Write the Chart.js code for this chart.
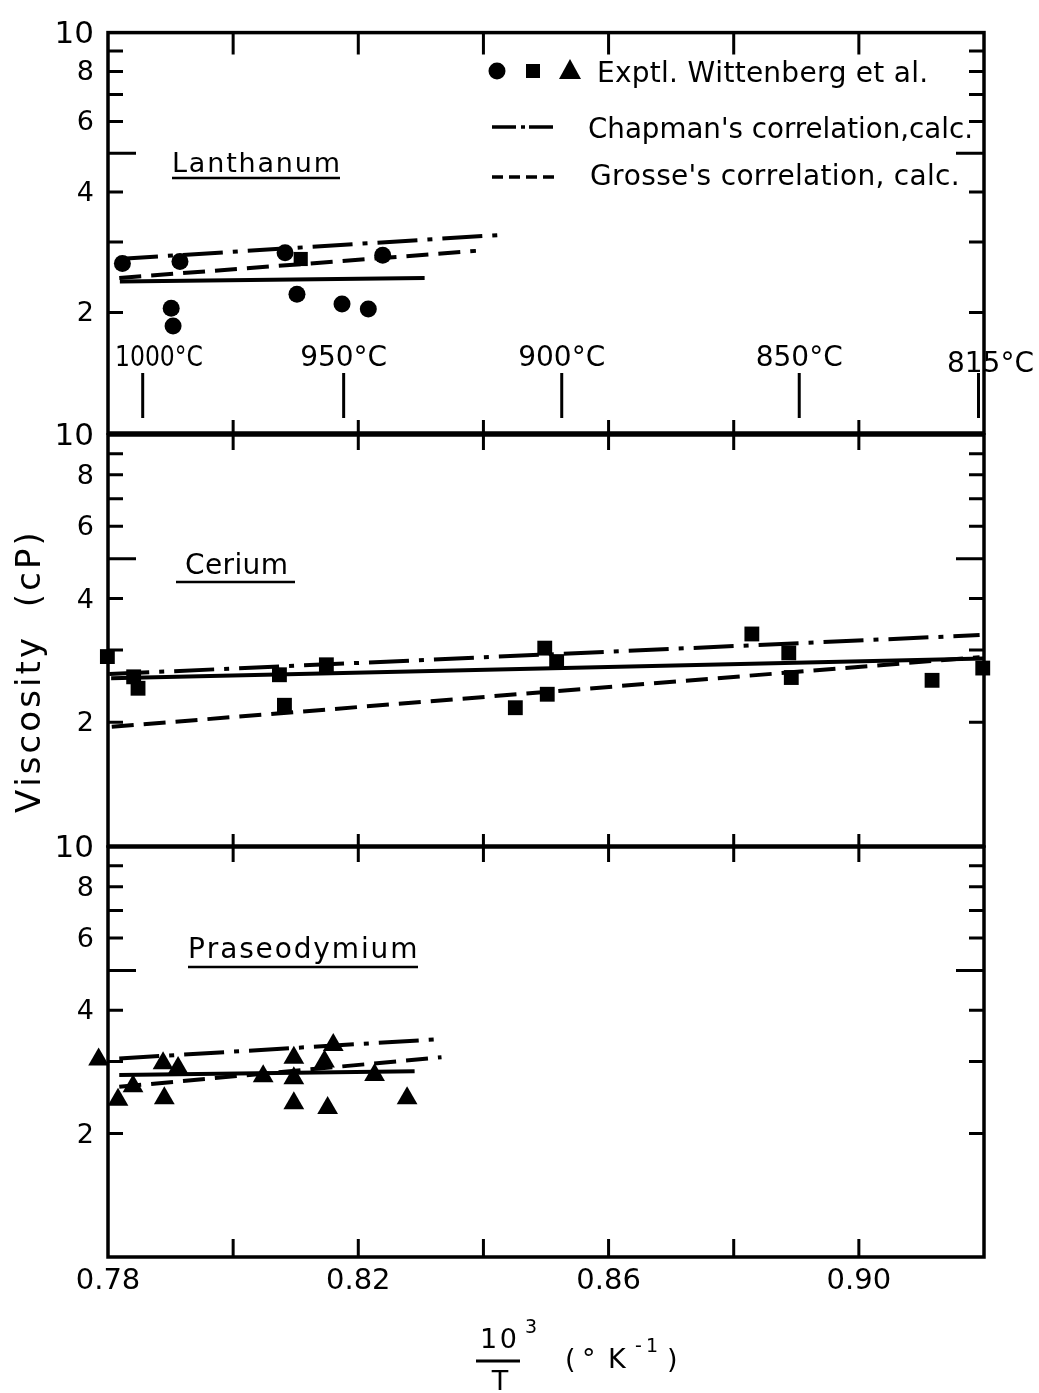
<!DOCTYPE html>
<html><head><meta charset="utf-8">
<script src="https://cdn.jsdelivr.net/npm/chart.js@4.4.1/dist/chart.umd.min.js"></script>
<style>
html,body{margin:0;padding:0;background:#fff;}
#wrap{position:relative;width:1039px;height:1393px;overflow:hidden;background:#fff;}
#wrap canvas{position:absolute;left:0;top:0;}
</style></head><body>
<div id="wrap">
<canvas id="c1" width="1039" height="1393"></canvas>
<canvas id="c2" width="1039" height="1393"></canvas>
<canvas id="c3" width="1039" height="1393"></canvas>
</div>
<script>
// ---------- tick labels ----------
const xTickLabels = [0.78, 0.82, 0.86, 0.90];
const xMinorTicks = [0.80, 0.82, 0.84, 0.86, 0.88, 0.90];
const yTickLabels = [2, 4, 6, 8, 10];
const yMinorTicks = [2, 3, 4, 5, 6, 7, 8, 9];
const tempLabels = [1000, 950, 900, 850, 815];   // °C, top temperature scale

// ---------- Lanthanum ----------
const laX = [0.7823, 0.7915, 0.7901, 0.7904, 0.8083, 0.8102, 0.8174, 0.8216, 0.8239];
const laY = [2.65, 2.68, 2.05, 1.85, 2.82, 2.22, 2.10, 2.04, 2.78];
const laSqX = [0.8108];
const laSqY = [2.72];
const laChapX = [0.7816, 0.8436];
const laChapY = [2.72, 3.13];
const laGrosX = [0.7818, 0.8388];
const laGrosY = [2.44, 2.85];
const laSolidX = [0.7819, 0.8306];
const laSolidY = [2.39, 2.44];

// ---------- Cerium ----------
const ceX = [0.7799, 0.7841, 0.7848, 0.8074, 0.8149, 0.8082, 0.8498, 0.8517, 0.8451, 0.8502, 0.8829, 0.8888, 0.8892, 0.9117, 0.9198];
const ceY = [2.89, 2.58, 2.42, 2.61, 2.76, 2.20, 3.03, 2.81, 2.17, 2.34, 3.28, 2.95, 2.57, 2.53, 2.71];
const ceChapX = [0.7802, 0.9193];
const ceChapY = [2.62, 3.26];
const ceGrosX = [0.7806, 0.9193];
const ceGrosY = [1.95, 2.88];
const ceSolidX = [0.7805, 0.9199];
const ceSolidY = [2.56, 2.86];

// ---------- Praseodymium ----------
const prX = [0.7785, 0.7816, 0.7840, 0.7888, 0.7912, 0.7890, 0.8048, 0.8097, 0.8097, 0.8097, 0.8146, 0.8160, 0.8151, 0.8226, 0.8278];
const prY = [3.03, 2.42, 2.61, 2.97, 2.89, 2.44, 2.76, 3.06, 2.73, 2.37, 3.00, 3.29, 2.31, 2.78, 2.44];
const prChapX = [0.7818, 0.8333];
const prChapY = [3.05, 3.40];
const prGrosX = [0.7818, 0.8333];
const prGrosY = [2.60, 3.07];
const prSolidX = [0.7818, 0.8290];
const prSolidY = [2.78, 2.84];

// ---------- helpers ----------
const FONT = "'DejaVu Sans', 'Liberation Sans', sans-serif";
const pts = (xs, ys) => xs.map((x, i) => ({x: x, y: ys[i]}));
const CHAP = [40, 10, 5, 10], GROS = [22, 10];

function ptDs(xs, ys, style, r) {
  return {data: pts(xs, ys), pointStyle: style, pointRadius: r, pointHoverRadius: r,
    backgroundColor: '#000', borderColor: '#000', borderWidth: 0, showLine: false, clip: false};
}
function lineDs(xs, ys, dash) {
  return {data: pts(xs, ys), showLine: true, borderColor: '#000', borderWidth: 4, borderDash: dash,
    borderCapStyle: 'butt', pointRadius: 0, pointHoverRadius: 0, fill: false, clip: false};
}

function txt(ctx, s, x, y, size, opt) {
  opt = opt || {};
  ctx.save();
  ctx.font = (opt.weight || 'normal') + ' ' + size + 'px ' + FONT;
  ctx.fillStyle = '#000';
  ctx.textBaseline = opt.baseline || 'alphabetic';
  ctx.textAlign = 'left';
  const w = ctx.measureText(s).width;
  let sx = 1, ls = 0;
  if (opt.width) {
    if (w > opt.width) sx = opt.width / w;
    else if (s.length > 1) ls = (opt.width - w) / (s.length - 1);
  }
  const total = opt.width || w;
  let x0 = x;
  if (opt.align === 'center') x0 = x - total / 2;
  else if (opt.align === 'right') x0 = x - total;
  if (opt.rotate) { ctx.translate(x, y); ctx.rotate(opt.rotate); x0 = 0; y = 0; }
  if (ls > 0) {
    let cx = x0;
    for (const ch of s) { ctx.fillText(ch, cx, y); cx += ctx.measureText(ch).width + ls; }
  } else {
    ctx.translate(x0, y); ctx.scale(sx, 1); ctx.fillText(s, 0, 0);
  }
  ctx.restore();
}
function underline(ctx, x0, x1, y) {
  ctx.save(); ctx.strokeStyle = '#000'; ctx.lineWidth = 2.5;
  ctx.beginPath(); ctx.moveTo(x0, y); ctx.lineTo(x1, y); ctx.stroke(); ctx.restore();
}

const framePlugin = {
  id: 'frame',
  afterDatasetsDraw(chart, args, o) {
    const ctx = chart.ctx, a = chart.chartArea, x = chart.scales.x, y = chart.scales.y;
    ctx.save();
    ctx.strokeStyle = '#000'; ctx.lineCap = 'butt';
    ctx.lineWidth = 3.5;
    ctx.strokeRect(a.left, a.top, a.right - a.left, a.bottom - a.top);
    ctx.lineWidth = 3;
    ctx.beginPath();
    yMinorTicks.forEach(v => {
      const py = y.getPixelForValue(v), len = v === 5 ? 28 : 15;
      ctx.moveTo(a.left, py); ctx.lineTo(a.left + len, py);
      ctx.moveTo(a.right, py); ctx.lineTo(a.right - len, py);
    });
    xMinorTicks.forEach(v => {
      const px = x.getPixelForValue(v);
      ctx.moveTo(px, a.top); ctx.lineTo(px, a.top + (o.topLen || 18));
      ctx.moveTo(px, a.bottom); ctx.lineTo(px, a.bottom - (o.botLen || 14));
    });
    ctx.stroke();
    ctx.restore();
  }
};

function makeChart(id, padTop, padBottom, datasets, showX, frameOpts, extra) {
  return new Chart(document.getElementById(id), {
    type: 'scatter',
    data: {datasets: datasets},
    options: {
      responsive: false, animation: false, devicePixelRatio: 1,
      layout: {padding: {top: padTop, bottom: padBottom, left: 0, right: 55}},
      plugins: {legend: {display: false}, tooltip: {enabled: false}, frame: frameOpts},
      scales: {
        x: {type: 'linear', min: 0.78, max: 0.92, display: showX,
          grid: {display: false, drawTicks: false}, border: {display: false},
          afterBuildTicks: s => { s.ticks = xTickLabels.map(v => ({value: v})); },
          afterFit: s => { if (showX) s.height = 136; },
          ticks: {callback: v => Number(v).toFixed(2), font: {family: FONT, size: 29}, color: '#000',
            padding: 7, maxRotation: 0, autoSkip: false}},
        y: {type: 'logarithmic', min: 1, max: 10,
          grid: {display: false, drawTicks: false}, border: {display: false},
          afterBuildTicks: s => { s.ticks = yTickLabels.map(v => ({value: v})); },
          afterFit: s => { s.width = 108; },
          ticks: {callback: v => String(v),
            font: c => ({family: FONT, size: (c.tick && c.tick.value === 10) ? 31 : 27}),
            color: '#000', padding: 14, labelOffset: 2, autoSkip: false}}
      }
    },
    plugins: [framePlugin, extra]
  });
}

// ---------- panel decorations ----------
const topDeco = {
  id: 'topDeco',
  afterDraw(chart) {
    const ctx = chart.ctx, a = chart.chartArea, x = chart.scales.x;
    // legend
    ctx.save(); ctx.fillStyle = '#000';
    ctx.beginPath(); ctx.arc(497, 71, 8.5, 0, Math.PI * 2); ctx.fill();
    ctx.fillRect(526, 64, 14, 14);
    ctx.beginPath(); ctx.moveTo(570, 59); ctx.lineTo(581, 79); ctx.lineTo(559, 79); ctx.closePath(); ctx.fill();
    ctx.strokeStyle = '#000'; ctx.lineWidth = 3.5;
    ctx.beginPath();
    ctx.moveTo(492, 127); ctx.lineTo(516, 127);
    ctx.moveTo(521, 127); ctx.lineTo(525, 127);
    ctx.moveTo(529, 127); ctx.lineTo(553, 127);
    [492, 509, 526, 543].forEach(s => { ctx.moveTo(s, 177); ctx.lineTo(s + 11, 177); });
    ctx.stroke(); ctx.restore();
    txt(ctx, 'Exptl. Wittenberg et al.', 597, 82, 28, {width: 330});
    txt(ctx, "Chapman's correlation,calc.", 588, 138, 28, {width: 385});
    txt(ctx, "Grosse's correlation, calc.", 590, 185, 28, {width: 368});
    // panel label
    txt(ctx, 'Lanthanum', 172, 172, 27, {width: 168});
    underline(ctx, 172, 340, 178);
    // temperature scale
    ctx.save(); ctx.strokeStyle = '#000'; ctx.lineWidth = 3;
    tempLabels.forEach(t => {
      const px = x.getPixelForValue(1000 / (t + 273));
      ctx.beginPath(); ctx.moveTo(px, 373); ctx.lineTo(px, 418); ctx.stroke();
      const label = t + '°C';
      ctx.font = '28px ' + FONT;
      const w = Math.min(ctx.measureText(label).width, 88);
      let cx = Math.max(px, a.left + 7 + w / 2);
      if (px > a.right - 10) cx = px + 12;
      txt(ctx, label, cx, t === 815 ? 372 : 366, 28, {width: w, align: 'center'});
    });
    ctx.restore();
  }
};
const midDeco = {
  id: 'midDeco',
  afterDraw(chart) {
    const ctx = chart.ctx;
    txt(ctx, 'Cerium', 185, 574, 28, {width: 103});
    underline(ctx, 176, 295, 582);
    txt(ctx, 'Viscosity  (cP)', 40, 813, 34, {width: 280, rotate: -Math.PI / 2});
  }
};
const botDeco = {
  id: 'botDeco',
  afterDraw(chart) {
    const ctx = chart.ctx;
    txt(ctx, 'Praseodymium', 188, 958, 28, {width: 229});
    underline(ctx, 188, 418, 967);
    // x-axis title: 10^3 / T  (°K^-1)
    txt(ctx, '10', 480, 1348, 27, {width: 37});
    txt(ctx, '3', 525, 1333, 19);
    ctx.save(); ctx.strokeStyle = '#000'; ctx.lineWidth = 3;
    ctx.beginPath(); ctx.moveTo(476, 1361); ctx.lineTo(520, 1361); ctx.stroke(); ctx.restore();
    txt(ctx, 'T', 500, 1390, 27, {align: 'center'});
    txt(ctx, '(', 565, 1368, 27);
    txt(ctx, '°', 582, 1368, 27);
    txt(ctx, 'K', 608, 1368, 27);
    txt(ctx, '-', 635, 1352, 19);
    txt(ctx, '1', 646, 1352, 19);
    txt(ctx, ')', 667, 1368, 27);
  }
};

// ---------- charts ----------
makeChart('c1', 20, 1393 - 433, [
  ptDs(laX, laY, 'circle', 8.5),
  ptDs(laSqX, laSqY, 'rect', 10),
  lineDs(laChapX, laChapY, CHAP),
  lineDs(laGrosX, laGrosY, GROS),
  lineDs(laSolidX, laSolidY, [])
], false, {topLen: 22, botLen: 13}, topDeco);

makeChart('c2', 435, 1393 - 846, [
  ptDs(ceX, ceY, 'rect', 10.5),
  lineDs(ceChapX, ceChapY, CHAP),
  lineDs(ceGrosX, ceGrosY, GROS),
  lineDs(ceSolidX, ceSolidY, [])
], false, {topLen: 15, botLen: 12}, midDeco);

makeChart('c3', 847, 0, [
  ptDs(prX, prY, 'triangle', 12),
  lineDs(prChapX, prChapY, CHAP),
  lineDs(prGrosX, prGrosY, GROS),
  lineDs(prSolidX, prSolidY, [])
], true, {topLen: 15, botLen: 18}, botDeco);
</script>
</body></html>
